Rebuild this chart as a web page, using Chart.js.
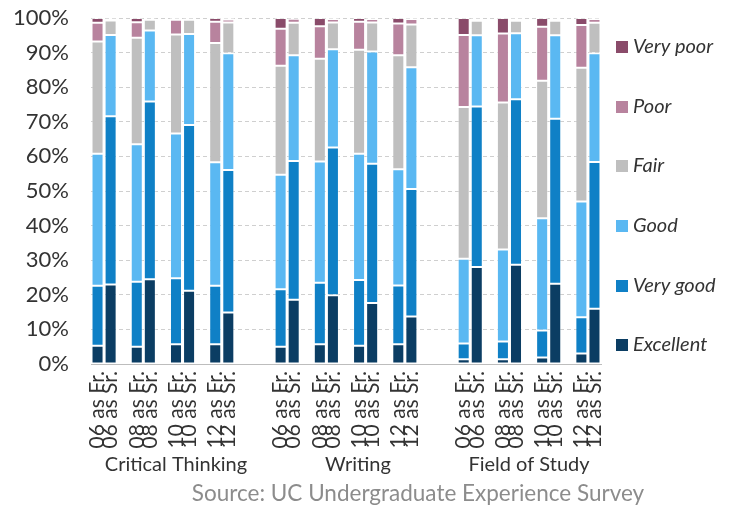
<!DOCTYPE html>
<html>
<head>
<meta charset="utf-8">
<script src="https://cdn.jsdelivr.net/npm/chart.js@4"></script>
<style>
  html, body { margin: 0; padding: 0; background: #fff; }
  #wrap { width: 730px; height: 508px; position: relative; }
</style>
</head>
<body>
<div id="wrap"><canvas id="c" width="730" height="508"></canvas></div>
<script>
// ---- Data ----
const groups = ['Critical Thinking', 'Writing', 'Field of Study'];
const barLabels = ['06 as Fr.', '06 as Sr.', '08 as Fr.', '08 as Sr.', '10 as Fr.', '10 as Sr.', '12 as Fr.', '12 as Sr.'];
const seriesNames = ['Excellent', 'Very good', 'Good', 'Fair', 'Poor', 'Very poor'];
const yTicks = [0, 10, 20, 30, 40, 50, 60, 70, 80, 90, 100];

// values per bar: Critical Thinking (8), Writing (8), Field of Study (8)
const excellent = [5.3, 23.0, 5.0, 24.5, 5.7, 21.2, 5.7, 14.9,
                   5.0, 18.6, 5.7, 19.9, 5.3, 17.6, 5.7, 13.7,
                   1.4, 28.0, 1.4, 28.7, 1.9, 23.2, 3.0, 16.0];
const veryGood  = [17.3, 48.6, 18.8, 51.4, 19.1, 47.9, 16.9, 41.2,
                   16.6, 40.1, 17.8, 42.7, 19.0, 40.3, 17.0, 36.9,
                   4.5, 46.4, 5.1, 47.8, 7.8, 47.7, 10.5, 42.4];
const good      = [38.2, 23.5, 39.7, 20.5, 41.8, 26.3, 35.7, 33.7,
                   33.1, 30.5, 35.0, 28.4, 36.5, 32.4, 33.6, 35.2,
                   24.5, 20.6, 26.6, 19.1, 32.4, 24.1, 33.5, 31.4];
const fair      = [32.4, 4.2, 30.8, 3.1, 28.6, 4.1, 34.5, 8.9,
                   31.5, 9.4, 29.7, 7.7, 30.0, 8.4, 32.9, 12.3,
                   43.9, 4.2, 42.5, 3.6, 39.8, 4.2, 38.6, 8.8];
const poor      = [5.4, 0.5, 4.5, 0.3, 4.3, 0.3, 6.1, 0.9,
                   10.7, 1.2, 9.4, 1.0, 8.1, 1.0, 9.2, 1.6,
                   20.8, 0.6, 19.9, 0.6, 15.6, 0.6, 12.4, 1.1];
const veryPoor  = [1.4, 0.2, 1.2, 0.2, 0.5, 0.2, 1.1, 0.4,
                   3.1, 0.2, 2.4, 0.3, 1.1, 0.3, 1.6, 0.3,
                   4.9, 0.2, 4.5, 0.2, 2.5, 0.2, 2.0, 0.3];

const colors = ['#0b3d63', '#0f80c6', '#5ab8f2', '#bfbfbf', '#b8839e', '#8a4b6a'];
const seriesValues = [excellent, veryGood, good, fair, poor, veryPoor];

// ---- Build category slots (with empty spacer slots) ----
const slotLabels = [];
const slotIndex = []; // maps slot -> data index or -1
groups.forEach((g, gi) => {
  if (gi > 0) { for (let k = 0; k < 3; k++) { slotLabels.push(''); slotIndex.push(-1); } }
  for (let p = 0; p < 4; p++) {
    if (p > 0) { slotLabels.push(''); slotIndex.push(-1); }
    for (let s = 0; s < 2; s++) {
      const bi = p * 2 + s;
      slotLabels.push(barLabels[bi]);
      slotIndex.push(gi * 8 + bi);
    }
  }
});

const datasets = seriesNames.map((name, si) => ({
  label: name,
  data: slotIndex.map(i => i < 0 ? null : seriesValues[si][i]),
  backgroundColor: colors[si],
  borderColor: 'rgba(255,255,255,0.45)',
  borderWidth: 1,
  borderSkipped: false,
  barPercentage: 0.92,
  categoryPercentage: 1.0
}));

const FONT = 'Lato, "Noto Sans", sans-serif';

const annotations = {
  id: 'annotations',
  afterDraw(chart) {
    const ctx = chart.ctx;
    ctx.save();
    // group labels
    const groupX = [176, 358, 529];
    ctx.fillStyle = '#333';
    ctx.font = '20px ' + FONT;
    ctx.textAlign = 'center';
    ctx.textBaseline = 'middle';
    groups.forEach((g, gi) => ctx.fillText(g, groupX[gi], 465));
    // source
    ctx.fillStyle = '#8c8c8c';
    ctx.font = '22.5px ' + FONT;
    ctx.fillText('Source: UC Undergraduate Experience Survey', 418, 494);
    // legend (reverse order)
    const legendY = [47, 107, 166, 226, 286, 345];
    ctx.textAlign = 'left';
    ctx.font = 'italic 20px ' + FONT;
    for (let k = 0; k < seriesNames.length; k++) {
      const si = seriesNames.length - 1 - k;
      const y = legendY[k];
      ctx.fillStyle = colors[si];
      ctx.fillRect(616, y - 6, 12, 12);
      ctx.fillStyle = '#333';
      ctx.fillText(seriesNames[si], 633, y);
    }
    ctx.restore();
  }
};

new Chart(document.getElementById('c'), {
  type: 'bar',
  data: { labels: slotLabels, datasets },
  options: {
    responsive: false,
    animation: false,
    layout: { padding: { left: 0, right: 129, top: 18, bottom: 0 } },
    plugins: { legend: { display: false }, tooltip: { enabled: false } },
    scales: {
      x: {
        stacked: true,
        grid: { display: false, drawTicks: false },
        border: { display: true, color: '#bdbdbd', width: 1 },
        ticks: {
          autoSkip: false,
          minRotation: 90,
          maxRotation: 90,
          padding: 7,
          color: '#333',
          font: { family: FONT, size: 21 }
        },
        afterFit(s) { s.height = 144; s.paddingTop = 0; s.paddingBottom = 0; }
      },
      y: {
        stacked: true,
        min: 0,
        max: 100,
        afterBuildTicks(s) { s.ticks = yTicks.map(v => ({ value: v })); },
        grid: { color: '#cfcfcf', lineWidth: 1, drawTicks: false },
        border: { display: false, dash: [4, 3] },
        ticks: {
          padding: 22,
          color: '#333',
          font: { family: FONT, size: 22 },
          callback: v => v + '%'
        },
        afterFit(s) { s.width = 91; s.paddingTop = 0; s.paddingBottom = 0; }
      }
    }
  },
  plugins: [annotations]
});
</script>
</body>
</html>
